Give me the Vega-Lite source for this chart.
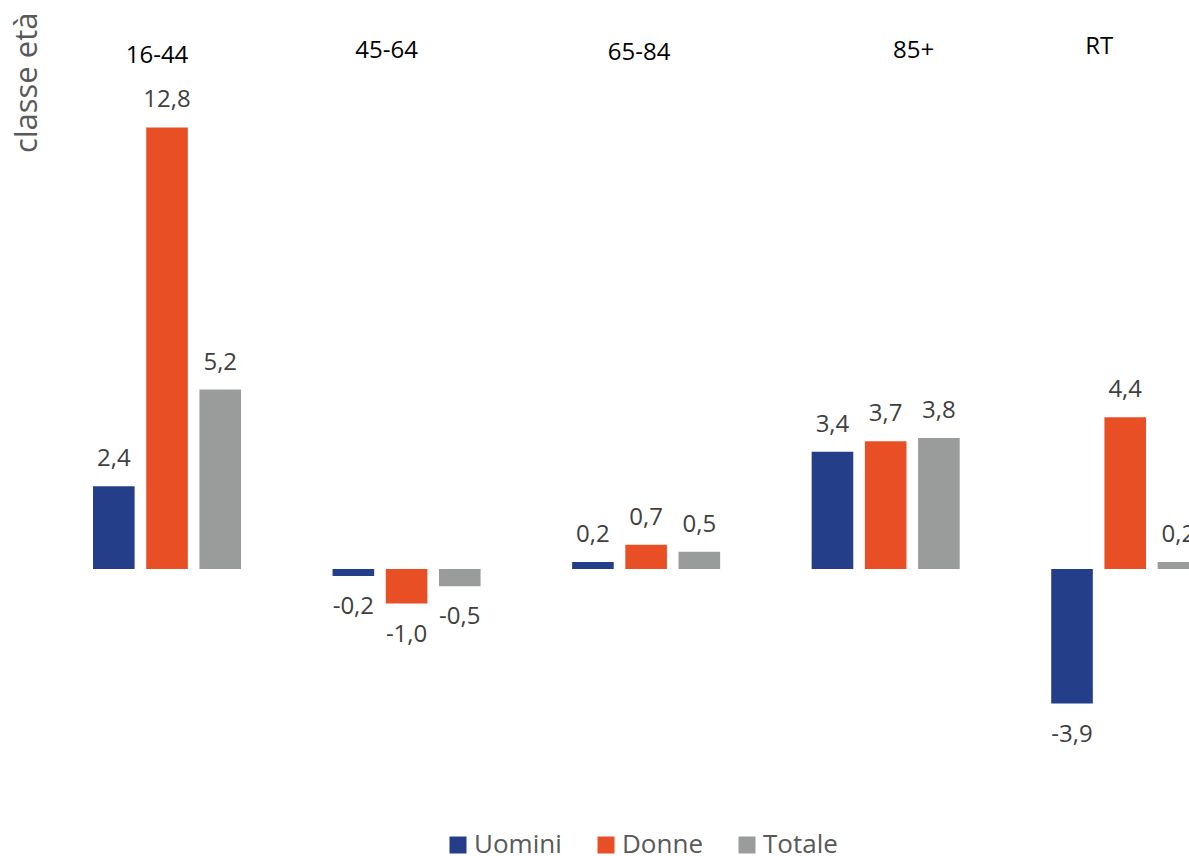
{
  "$schema": "https://vega.github.io/schema/vega-lite/v6.json",
  "width": 1142,
  "height": 690,
  "autosize": {"type": "none"},
  "padding": {"left": 47.25, "top": 86, "right": 0, "bottom": 80},
  "background": "white",
  "config": {
    "view": {"stroke": null},
    "font": "Open Sans",
    "locale": {"number": {"decimal": ",", "thousands": ".", "grouping": [3], "currency": ["", "€"], "minus": "-"}}
  },
  "data": {
    "values": [
      {"classe": "16-44", "serie": "Uomini", "valore": 2.4},
      {"classe": "16-44", "serie": "Donne", "valore": 12.8},
      {"classe": "16-44", "serie": "Totale", "valore": 5.2},
      {"classe": "45-64", "serie": "Uomini", "valore": -0.2},
      {"classe": "45-64", "serie": "Donne", "valore": -1.0},
      {"classe": "45-64", "serie": "Totale", "valore": -0.5},
      {"classe": "65-84", "serie": "Uomini", "valore": 0.2},
      {"classe": "65-84", "serie": "Donne", "valore": 0.7},
      {"classe": "65-84", "serie": "Totale", "valore": 0.5},
      {"classe": "85+", "serie": "Uomini", "valore": 3.4},
      {"classe": "85+", "serie": "Donne", "valore": 3.7},
      {"classe": "85+", "serie": "Totale", "valore": 3.8},
      {"classe": "RT", "serie": "Uomini", "valore": -3.9},
      {"classe": "RT", "serie": "Donne", "valore": 4.4},
      {"classe": "RT", "serie": "Totale", "valore": 0.2}
    ]
  },
  "encoding": {
    "x": {
      "field": "classe",
      "type": "nominal",
      "sort": ["16-44", "45-64", "65-84", "85+", "RT"],
      "scale": {"range": [0, 1197.75], "paddingInner": 0, "paddingOuter": 0},
      "axis": {
        "orient": "top",
        "title": null,
        "domain": false,
        "ticks": false,
        "tickSize": 0,
        "grid": false,
        "labelAngle": 0,
        "labelFont": "Open Sans",
        "labelFontSize": 24,
        "labelColor": "#000000",
        "labelBaseline": "alphabetic",
        "labelOffset": {"expr": "datum.value == '16-44' ? -10 : datum.value == '45-64' ? -20 : datum.value == '65-84' ? -7 : datum.value == '85+' ? 28 : -26"},
        "labelPadding": {"expr": "datum.value == '16-44' ? 24 : datum.value == '45-64' ? 29 : datum.value == '65-84' ? 27 : datum.value == '85+' ? 29 : 33"}
      }
    },
    "xOffset": {
      "field": "serie",
      "type": "nominal",
      "sort": ["Uomini", "Donne", "Totale"],
      "scale": {"paddingInner": 0.218, "paddingOuter": 0.86}
    },
    "y": {
      "field": "valore",
      "type": "quantitative",
      "scale": {"domain": [-6, 14], "nice": false, "zero": true},
      "axis": {
        "labels": false,
        "ticks": false,
        "domain": false,
        "grid": false,
        "title": "classe età",
        "titleFont": "Open Sans",
        "titleFontSize": 31,
        "titleFontWeight": "normal",
        "titleColor": "#595959",
        "titleAngle": -90,
        "titleAlign": "right",
        "titleBaseline": "alphabetic",
        "titleX": -11,
        "titleY": -74
      }
    }
  },
  "layer": [
    {
      "mark": {"type": "bar"},
      "encoding": {
        "color": {
          "field": "serie",
          "type": "nominal",
          "sort": ["Uomini", "Donne", "Totale"],
          "scale": {"domain": ["Uomini", "Donne", "Totale"], "range": ["#243E8A", "#E84F25", "#9A9C9C"]},
          "legend": {
            "title": null,
            "orient": "none",
            "direction": "horizontal",
            "legendX": 397.75,
            "legendY": 746,
            "symbolType": "square",
            "symbolSize": 289,
            "symbolStrokeWidth": 0,
            "symbolOpacity": 1,
            "labelFont": "Open Sans",
            "labelFontSize": 26,
            "labelColor": "#595959",
            "labelOffset": 3,
            "columnPadding": 31,
            "padding": 0
          }
        }
      }
    },
    {
      "transform": [{"filter": "datum.valore >= 0"}],
      "mark": {"type": "text", "baseline": "alphabetic", "align": "center", "dy": -20, "fontSize": 24, "font": "Open Sans", "color": "#404040"},
      "encoding": {"text": {"field": "valore", "type": "quantitative", "format": ".1f"}}
    },
    {
      "transform": [{"filter": "datum.valore < 0"}],
      "mark": {"type": "text", "baseline": "alphabetic", "align": "center", "dy": 38, "fontSize": 24, "font": "Open Sans", "color": "#404040"},
      "encoding": {"text": {"field": "valore", "type": "quantitative", "format": ".1f"}}
    }
  ]
}
